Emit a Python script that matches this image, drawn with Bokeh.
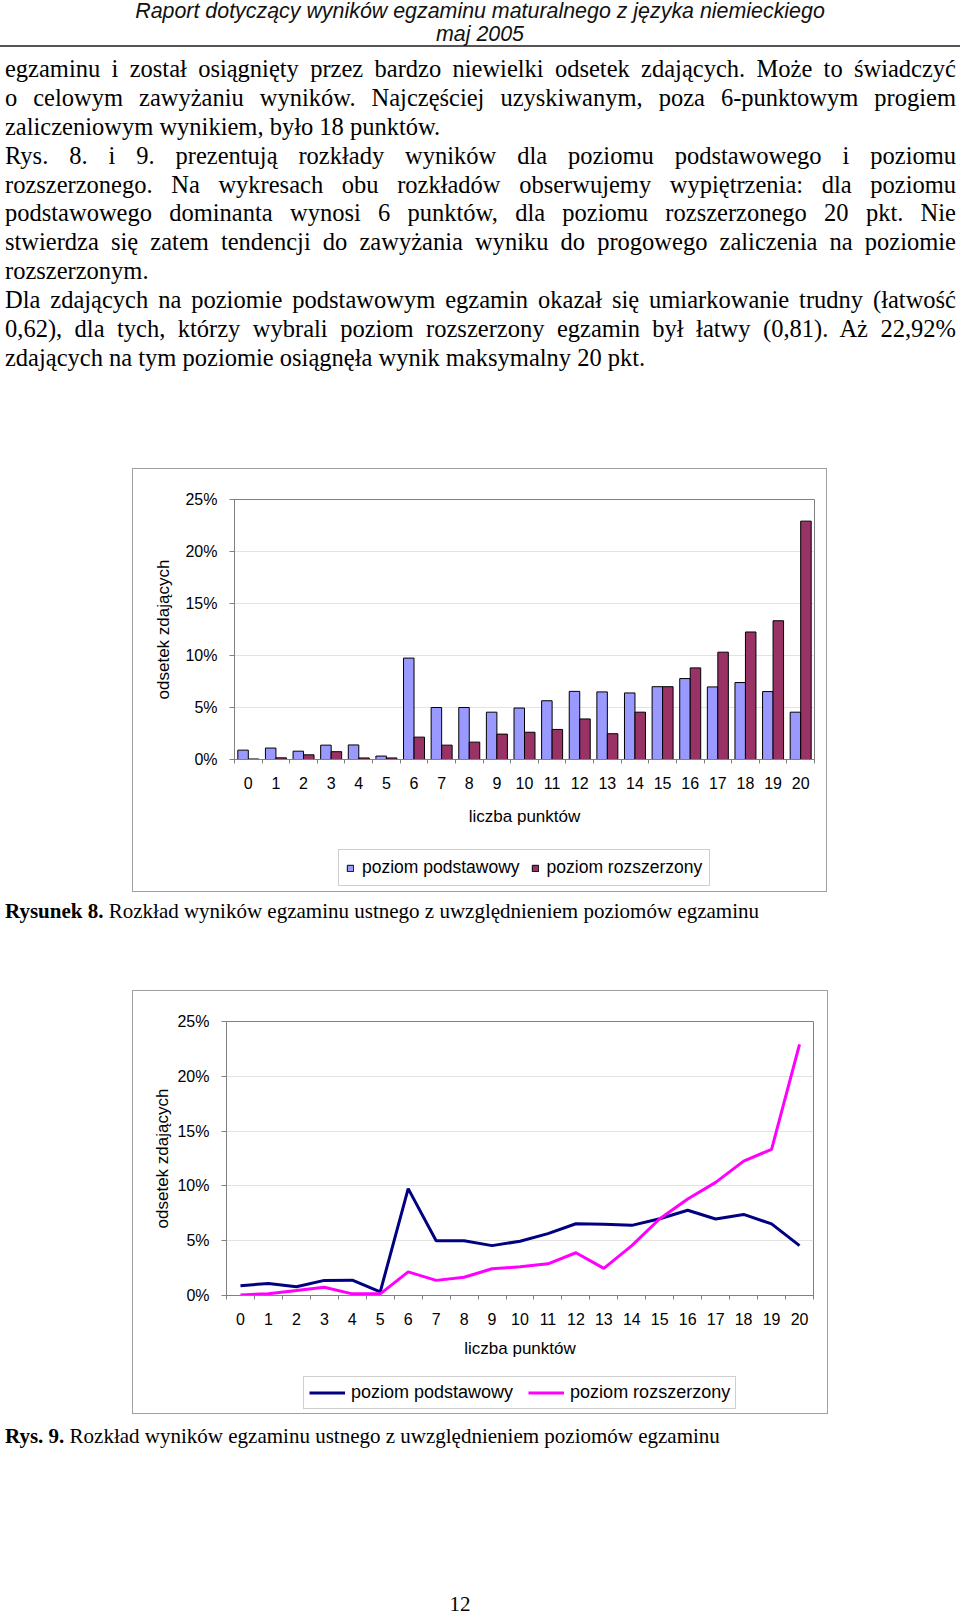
from bokeh.plotting import figure
from bokeh.models import (Div, Spacer, FixedTicker, PrintfTickFormatter, ColumnDataSource,
                          Legend, LegendItem)
from bokeh.layouts import column, row
from bokeh.transform import dodge
from bokeh.embed import file_html
from bokeh.resources import INLINE

# ---------------- data ----------------
points = list(range(21))
tick_labels = [str(i) for i in points]
podstawowy = [0.9, 1.1, 0.8, 1.38, 1.4, 0.33, 9.75, 5.0, 5.0, 4.55, 4.95, 5.65,
              6.55, 6.5, 6.4, 7.0, 7.78, 6.98, 7.4, 6.53, 4.55]
rozszerzony = [0.05, 0.16, 0.45, 0.75, 0.15, 0.15, 2.15, 1.38, 1.67, 2.44, 2.62, 2.89,
               3.9, 2.48, 4.55, 7.0, 8.81, 10.32, 12.26, 13.34, 22.92]
y_ticks = [0, 5, 10, 15, 20, 25]
series_names = ["poziom podstawowy", "poziom rozszerzony"]
y_title = "odsetek zdających"
x_title = "liczba punktów"

header_lines = ["Raport dotyczący wyników egzaminu maturalnego z języka niemieckiego",
                "maj 2005"]
body_lines = [
    ("egzaminu i został osiągnięty przez bardzo niewielki odsetek zdających. Może to świadczyć", False),
    ("o celowym zawyżaniu wyników. Najczęściej uzyskiwanym, poza 6-punktowym progiem", False),
    ("zaliczeniowym wynikiem, było 18 punktów.", True),
    ("Rys. 8. i 9. prezentują rozkłady wyników dla poziomu podstawowego i poziomu", False),
    ("rozszerzonego. Na wykresach obu rozkładów obserwujemy wypiętrzenia: dla poziomu", False),
    ("podstawowego dominanta wynosi 6 punktów, dla poziomu rozszerzonego 20 pkt. Nie", False),
    ("stwierdza się zatem tendencji do zawyżania wyniku do progowego zaliczenia na poziomie", False),
    ("rozszerzonym.", True),
    ("Dla zdających na poziomie podstawowym egzamin okazał się umiarkowanie trudny (łatwość", False),
    ("0,62), dla tych, którzy wybrali poziom rozszerzony egzamin był łatwy (0,81). Aż 22,92%", False),
    ("zdających na tym poziomie osiągnęła wynik maksymalny 20 pkt.", True),
]
caption1 = ("Rysunek 8.", " Rozkład wyników egzaminu ustnego z uwzględnieniem poziomów egzaminu")
caption2 = ("Rys. 9.", " Rozkład wyników egzaminu ustnego z uwzględnieniem poziomów egzaminu")
page_number = "12"

BLUE_BAR = "#9999FF"
MAROON_BAR = "#993366"
NAVY_LINE = "#000080"
MAGENTA_LINE = "#FF00FF"
SANS = "Liberation Sans"
SERIF = "Liberation Serif"
BOX = "1px solid #a0a0a0"

src = ColumnDataSource(dict(pts=points, podst=podstawowy, rozsz=rozszerzony))


def base_chart(width, height, ml, mr, mt, mb, tick_standoff, xlab_standoff, ylab_standoff):
    p = figure(width=width, height=height, x_range=(-0.5, 20.5), y_range=(0, 25),
               output_backend="svg", toolbar_location=None,
               min_border_left=ml, min_border_right=mr, min_border_top=mt, min_border_bottom=mb,
               background_fill_color="white", border_fill_color="white",
               styles={"border-top": BOX, "border-left": BOX, "border-right": BOX})
    p.outline_line_color = "#808080"
    p.outline_line_width = 1
    p.xgrid.visible = False
    p.ygrid.grid_line_color = "#e2e2e2"
    p.ygrid.ticker = FixedTicker(ticks=y_ticks)

    xa = p.xaxis[0]
    xa.ticker = FixedTicker(ticks=points, minor_ticks=[i - 0.5 for i in range(22)])
    xa.major_label_overrides = {i: lbl for i, lbl in zip(points, tick_labels)}
    xa.major_tick_out = 0
    xa.major_tick_in = 0
    xa.minor_tick_out = 4
    xa.minor_tick_in = 0
    xa.minor_tick_line_color = "#808080"
    xa.major_label_standoff = tick_standoff
    xa.axis_label = x_title
    xa.axis_label_standoff = xlab_standoff

    ya = p.yaxis[0]
    ya.ticker = FixedTicker(ticks=y_ticks)
    ya.formatter = PrintfTickFormatter(format="%d%%")
    ya.major_tick_out = 5
    ya.major_tick_in = 0
    ya.major_tick_line_color = "#808080"
    ya.major_label_standoff = 12
    ya.axis_label = y_title
    ya.axis_label_standoff = ylab_standoff

    for ax in (xa, ya):
        ax.axis_line_color = "#808080"
        ax.major_label_text_font = SANS
        ax.major_label_text_font_size = "16px"
        ax.major_label_text_color = "black"
        ax.axis_label_text_font = SANS
        ax.axis_label_text_font_size = "17px"
        ax.axis_label_text_font_style = "normal"
        ax.axis_label_text_color = "black"
    return p


def legend_strip(width, height):
    # strip below a chart that only carries its legend; its ranges lie far away from the
    # data, so the key renderers (same data as the chart) stay out of view
    f = figure(width=width, height=height, x_range=(1000, 1020), y_range=(1000, 1020),
               x_axis_type=None, y_axis_type=None, output_backend="svg",
               toolbar_location=None, min_border=0,
               background_fill_color="white", border_fill_color="white",
               styles={"border-bottom": BOX, "border-left": BOX, "border-right": BOX})
    f.outline_line_color = None
    return f


def make_legend(f, items, loc, glyph_w, glyph_h, standoff, spacing, padding, font_size):
    lg = Legend(items=items, location=loc, orientation="horizontal",
                glyph_width=glyph_w, glyph_height=glyph_h, label_standoff=standoff,
                spacing=spacing, padding=padding, margin=0, label_height=19,
                label_text_font=SANS, label_text_font_size=font_size,
                label_text_color="black",
                border_line_color="#a0a0a0", border_line_width=1,
                background_fill_color="white", background_fill_alpha=1.0)
    f.add_layout(lg, "center")


# ---------------- chart 1 (bars) ----------------
p1 = base_chart(695, 375, 101, 14, 30, 85, 13, 15, 9)
p1.vbar(x=dodge("pts", -0.19, range=p1.x_range), top="podst", width=0.38, source=src,
        fill_color=BLUE_BAR, line_color="black", line_width=1)
p1.vbar(x=dodge("pts", 0.19, range=p1.x_range), top="rozsz", width=0.38, source=src,
        fill_color=MAROON_BAR, line_color="black", line_width=1)
lf1 = legend_strip(695, 49)
k1a = lf1.vbar(x="pts", top="podst", width=0.38, source=src, fill_color=BLUE_BAR,
               line_color="black", line_width=1)
k1b = lf1.vbar(x="pts", top="rozsz", width=0.38, source=src, fill_color=MAROON_BAR,
               line_color="black", line_width=1)
make_legend(lf1, [LegendItem(label=series_names[0], renderers=[k1a]),
                  LegendItem(label=series_names[1], renderers=[k1b])],
            (104, 6), 8, 8, 8, 11, 7, "17.5px")

# ---------------- chart 2 (lines) ----------------
p2 = base_chart(696, 381, 93, 16, 30, 77, 13, 11, 2)
p2.line(x="pts", y="podst", source=src, line_color=NAVY_LINE, line_width=3)
p2.line(x="pts", y="rozsz", source=src, line_color=MAGENTA_LINE, line_width=3)
lf2 = legend_strip(696, 43)
k2a = lf2.line(x="pts", y="podst", source=src, line_color=NAVY_LINE, line_width=3)
k2b = lf2.line(x="pts", y="rozsz", source=src, line_color=MAGENTA_LINE, line_width=3)
make_legend(lf2, [LegendItem(label=series_names[0], renderers=[k2a]),
                  LegendItem(label=series_names[1], renderers=[k2b])],
            (77, 5), 36, 19, 6, 15, 5, "18px")

# ---------------- text blocks ----------------
header_html = (
    '<div style="width:960px;height:45px;text-align:center;font-family:\'Liberation Sans\';'
    'font-style:italic;font-size:21.4px;line-height:22.6px;color:#111;">'
    + "<br>".join(header_lines) +
    '</div><div style="width:960px;height:2px;background:#555;"></div>'
)
header = Div(text=header_html, width=960, height=48, margin=0)

body_parts = []
for txt, last in body_lines:
    align_last = "left" if last else "justify"
    body_parts.append(
        f'<div style="width:951px;height:28.9px;line-height:28.9px;white-space:nowrap;'
        f'text-align:justify;text-align-last:{align_last};">{txt}</div>')
body = Div(text="".join(body_parts), width=951, height=318, margin=0,
           styles={"font-family": SERIF, "font-size": "24.5px", "color": "black"})


def caption(parts):
    html = (f'<div style="width:950px;font-family:\'Liberation Serif\';font-size:21px;'
            f'line-height:26px;white-space:nowrap;color:black;"><b>{parts[0]}</b>{parts[1]}</div>')
    return Div(text=html, width=950, height=26, margin=0)


cap1 = caption(caption1)
cap2 = caption(caption2)
pnum = Div(text=f'<div style="width:920px;font-family:\'Liberation Serif\';font-size:21px;'
                f'line-height:14px;text-align:center;color:black;">{page_number}</div>',
           width=920, height=14, margin=0)


def sp(w, h):
    return Spacer(width=w, height=h, margin=0)


layout = column(
    header,
    sp(960, 7),
    row(sp(5, 318), body),
    sp(960, 95),
    row(sp(132, 424), column(p1, lf1, spacing=0)),
    sp(960, 6),
    row(sp(5, 26), cap1),
    sp(960, 66),
    row(sp(132, 424), column(p2, lf2, spacing=0)),
    sp(960, 9),
    row(sp(5, 26), cap2),
    sp(960, 148),
    pnum,
    spacing=0,
)

open("out.html", "w").write(file_html(layout, INLINE))
